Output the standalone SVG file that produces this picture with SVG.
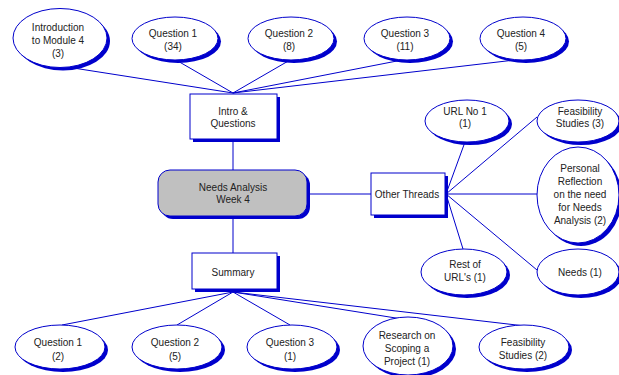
<svg xmlns="http://www.w3.org/2000/svg" width="619" height="375" viewBox="0 0 619 375">
<style>
.sh{fill:#0000cc;stroke:none}
.nd{fill:#fff;stroke:#0000cc;stroke-width:1}
.gr{fill:#c0c0c0;stroke:#0000cc;stroke-width:1}
.ln{stroke:#0000cc;stroke-width:1;fill:none}
text{font-family:"Liberation Sans",Arial,sans-serif;font-size:10px;fill:#222;text-anchor:middle}
</style>
<g id="connectors">
<path class="ln" d="M67,67 L233,93 M176,60 L233,93 M290,60 L233,93 M402,60 L233,93 M515,60 L233,93"/>
<path class="ln" d="M233,139 L233,170 M233,216 L233,253 M307,194 L371,194"/>
<path class="ln" d="M446,194 L465,142 M446,194 L537,117 M446,194 L537,194 M446,194 L463,249 M446,194 L537,270"/>
<path class="ln" d="M233,292 L62,325 M233,292 L177,325 M233,292 L290,325 M233,292 L402,319 M233,292 L525,326"/>
</g>
<g id="n_intro_mod">
<ellipse class="sh" cx="63" cy="41" rx="47" ry="29.5"/>
<ellipse class="nd" cx="60" cy="38" rx="47" ry="29.5"/>
<text x="58" y="31">Introduction</text><text x="58" y="44">to Module 4</text><text x="58" y="57">(3)</text>
</g>
<g id="n_q1">
<ellipse class="sh" cx="178" cy="41.5" rx="43" ry="21.5"/>
<ellipse class="nd" cx="175" cy="38.5" rx="43" ry="21.5"/>
<text x="173" y="37">Question 1</text><text x="173" y="50">(34)</text>
</g>
<g id="n_q2">
<ellipse class="sh" cx="294" cy="41.5" rx="43" ry="21.5"/>
<ellipse class="nd" cx="291" cy="38.5" rx="43" ry="21.5"/>
<text x="289" y="37">Question 2</text><text x="289" y="50">(8)</text>
</g>
<g id="n_q3">
<ellipse class="sh" cx="410" cy="41.5" rx="43" ry="21.5"/>
<ellipse class="nd" cx="407" cy="38.5" rx="43" ry="21.5"/>
<text x="405" y="37">Question 3</text><text x="405" y="50">(11)</text>
</g>
<g id="n_q4">
<ellipse class="sh" cx="526" cy="41.5" rx="43" ry="21.5"/>
<ellipse class="nd" cx="523" cy="38.5" rx="43" ry="21.5"/>
<text x="521" y="37">Question 4</text><text x="521" y="50">(5)</text>
</g>
<g id="n_intro_box">
<rect class="sh" x="193" y="97" width="87" height="45"/>
<rect class="nd" x="190" y="94" width="87" height="45"/>
<text x="233" y="115">Intro &amp;</text><text x="233" y="127">Questions</text>
</g>
<g id="n_center">
<rect class="sh" x="161" y="173" width="149" height="46" rx="12"/>
<rect class="gr" x="158" y="170" width="149" height="46" rx="12"/>
<text x="233" y="191">Needs Analysis</text><text x="233" y="203">Week 4</text>
</g>
<g id="n_other">
<rect class="sh" x="374" y="176" width="74" height="42"/>
<rect class="nd" x="371" y="173" width="74" height="42"/>
<text x="407" y="198">Other Threads</text>
</g>
<g id="n_summary">
<rect class="sh" x="195" y="256" width="85" height="36"/>
<rect class="nd" x="192" y="253" width="85" height="36"/>
<text x="233" y="276">Summary</text>
</g>
<g id="n_url1">
<ellipse class="sh" cx="470" cy="124" rx="42" ry="21"/>
<ellipse class="nd" cx="467" cy="121" rx="42" ry="21"/>
<text x="465" y="115">URL No 1</text><text x="465" y="127">(1)</text>
</g>
<g id="n_feas3">
<ellipse class="sh" cx="581" cy="124" rx="41" ry="21"/>
<ellipse class="nd" cx="578" cy="121" rx="41" ry="21"/>
<text x="580" y="115">Feasibility</text><text x="580" y="127">Studies (3)</text>
</g>
<g id="n_reflect">
<ellipse class="sh" cx="581" cy="198" rx="41" ry="48"/>
<ellipse class="nd" cx="578" cy="195" rx="41" ry="48"/>
<text x="580" y="172">Personal</text><text x="580" y="185">Reflection</text><text x="580" y="198">on the need</text><text x="580" y="211">for Needs</text><text x="580" y="224">Analysis (2)</text>
</g>
<g id="n_resturl">
<ellipse class="sh" cx="467" cy="275" rx="43" ry="23"/>
<ellipse class="nd" cx="464" cy="272" rx="43" ry="23"/>
<text x="465" y="268">Rest of</text><text x="465" y="281">URL's (1)</text>
</g>
<g id="n_needs">
<ellipse class="sh" cx="581" cy="275" rx="41" ry="23"/>
<ellipse class="nd" cx="578" cy="272" rx="41" ry="23"/>
<text x="580" y="276">Needs (1)</text>
</g>
<g id="n_bq1">
<ellipse class="sh" cx="63" cy="350" rx="45" ry="22"/>
<ellipse class="nd" cx="60" cy="347" rx="45" ry="22"/>
<text x="58" y="346">Question 1</text><text x="58" y="360">(2)</text>
</g>
<g id="n_bq2">
<ellipse class="sh" cx="180" cy="350" rx="45" ry="22"/>
<ellipse class="nd" cx="177" cy="347" rx="45" ry="22"/>
<text x="175" y="346">Question 2</text><text x="175" y="360">(5)</text>
</g>
<g id="n_bq3">
<ellipse class="sh" cx="295" cy="350" rx="45" ry="22"/>
<ellipse class="nd" cx="292" cy="347" rx="45" ry="22"/>
<text x="290" y="346">Question 3</text><text x="290" y="360">(1)</text>
</g>
<g id="n_research">
<ellipse class="sh" cx="411" cy="349" rx="45" ry="29"/>
<ellipse class="nd" cx="408" cy="346" rx="45" ry="29"/>
<text x="407" y="339">Research on</text><text x="407" y="352">Scoping a</text><text x="407" y="365">Project (1)</text>
</g>
<g id="n_feas2">
<ellipse class="sh" cx="527" cy="350" rx="45" ry="22"/>
<ellipse class="nd" cx="524" cy="347" rx="45" ry="22"/>
<text x="523" y="346">Feasibility</text><text x="523" y="359">Studies (2)</text>
</g>
</svg>
